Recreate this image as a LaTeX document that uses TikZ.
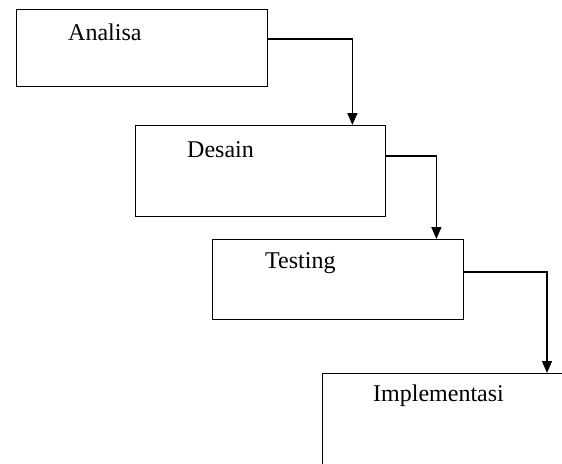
\documentclass[tikz,border=0pt]{standalone}
\usepackage{fontspec}
\setmainfont{Liberation Serif}
\usetikzlibrary{arrows.meta}
\begin{document}
\begin{tikzpicture}[x=1pt,y=-1pt,
  stagebox/.style={draw, line width=1.4pt, inner sep=0pt, anchor=north west},
  stagelabel/.style={inner sep=0pt, anchor=west, font=\fontsize{24}{28}\selectfont},
  flow/.style={line width=1.3pt, -{Triangle[width=10pt,length=12pt]}}]
  \useasboundingbox (0,0) rectangle (562,463);
  \clip (0,0) rectangle (562,463);
  \fill[white] (0,0) rectangle (562,463);

  % the four stages, stepping down to the right
  \node[stagebox, minimum width=251pt, minimum height=77pt] (analisa) at (16,9) {};
  \node[stagebox, minimum width=250pt, minimum height=91pt] (desain) at (135,125) {};
  \node[stagebox, minimum width=251pt, minimum height=80pt] (testing) at (212,239) {};
  \node[stagebox, minimum width=300pt, minimum height=150pt] (impl) at (322,373) {};

  \node[stagelabel] (tAnalisa) at (68,32) {Analisa};
  \node[stagelabel] (tDesain) at (187,150) {Desain};
  \node[stagelabel] (tTesting) at (265,263) {Testing};
  \node[stagelabel] (tImpl) at (373,396) {Implementasi};

  % flow from each stage into the next
  \draw[flow] ([yshift=-30pt]analisa.north east) -| ([xshift=-34pt]desain.north east);
  \draw[flow] ([yshift=-31pt]desain.north east) -| ([xshift=-28pt]testing.north east);
  \draw[flow] ([yshift=-33pt]testing.north east) -| ([xshift=225pt]impl.north west);
\end{tikzpicture}
\end{document}
